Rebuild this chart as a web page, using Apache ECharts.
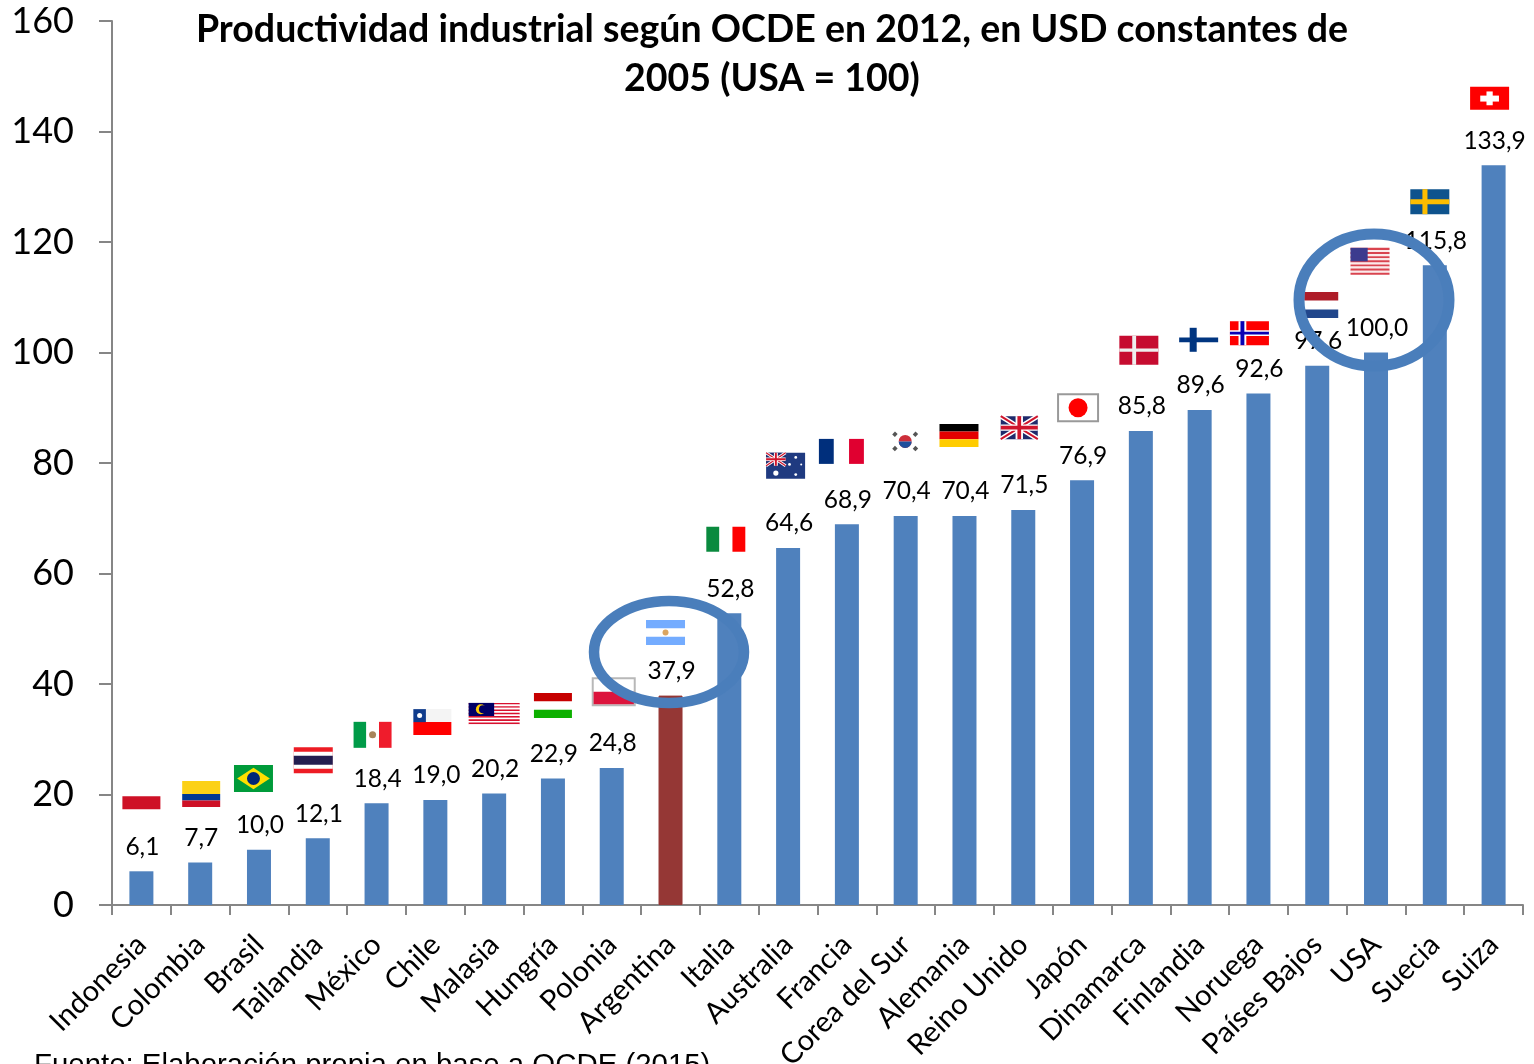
<!DOCTYPE html>
<html>
<head>
<meta charset="utf-8">
<title>Productividad industrial</title>
<script src="https://cdn.jsdelivr.net/npm/echarts@6/dist/echarts.min.js"></script>
<style>
  html, body { margin: 0; padding: 0; background: #fff; overflow: hidden; }
  #chart { width: 1534px; height: 1064px; }
</style>
</head>
<body>
<div id="chart"></div>
<script>
  const paises = ['Indonesia', 'Colombia', 'Brasil', 'Tailandia', 'México', 'Chile', 'Malasia', 'Hungría',
    'Polonia', 'Argentina', 'Italia', 'Australia', 'Francia', 'Corea del Sur', 'Alemania', 'Reino Unido',
    'Japón', 'Dinamarca', 'Finlandia', 'Noruega', 'Países Bajos', 'USA', 'Suecia', 'Suiza'];
  const productividad = [6.1, 7.7, 10.0, 12.1, 18.4, 19.0, 20.2, 22.9, 24.8, 37.9, 52.8, 64.6, 68.9, 70.4,
    70.4, 71.5, 76.9, 85.8, 89.6, 92.6, 97.6, 100.0, 115.8, 133.9];
  const nivelBandera = [19.7, 20.1, 22.9, 26.2, 30.8, 33.1, 34.5, 36.1, 38.6, 49.3, 66.2, 79.5, 82.1, 83.9,
    85.0, 86.4, 90.0, 100.4, 102.3, 103.5, 108.6, 116.5, 127.3, 146.0];

  const FONT = 'Lato, "Open Sans", sans-serif';

  // desplazamiento x (px) y tamano [ancho, alto] de las banderas, aparte de los datos
  const dxBandera = [0, 1, -5.5, -4.5, -4, -3, 0, 0, 2, -5, -3.5, -2.5, -5.5, -0.5, -5.5, -4, -4, -2, -1, -9, 4, -6, -5, -4];
  const tamBandera = [[38, 26], [38, 26], [39, 27], [39, 26], [38, 26], [38, 26], [51, 23], [38, 25], [42, 27],
    [39, 25], [39, 25], [39, 26], [45, 25], [27, 21], [39, 23], [37, 23], [40, 27], [39, 29], [39, 24], [39, 24],
    [34, 26], [39, 27], [39, 25], [39, 23]];

  // piezas: rect [x,y,w,h,color], disc [cx,cy,r,color] (r en px), line [x1,y1,x2,y2,grosor,color]
  const rect = (x, y, w, h, c) => ({ t: 'r', x, y, w, h, c });
  const disc = (x, y, r, c) => ({ t: 'c', x, y, r, c });
  const line = (x1, y1, x2, y2, lw, c) => ({ t: 'l', x1, y1, x2, y2, lw, c });

  function unionJack(x, y, w, h, k) {
    return [
      rect(x, y, w, h, '#1f2a6b'),
      line(x, y, x + w, y + h, 5 * k, '#fff'), line(x + w, y, x, y + h, 5 * k, '#fff'),
      line(x, y, x + w, y + h, 2 * k, '#cf142b'), line(x + w, y, x, y + h, 2 * k, '#cf142b'),
      rect(x + w * .4, y, w * .2, h, '#fff'), rect(x, y + h * .36, w, h * .28, '#fff'),
      rect(x + w * .45, y, w * .1, h, '#cf142b'), rect(x, y + h * .42, w, h * .16, '#cf142b')
    ];
  }
  function franjas(n, c1, c2) {
    const out = [];
    for (let i = 0; i < n; i++) out.push(rect(0, i / n, 1, 1 / n, i % 2 ? c2 : c1));
    return out;
  }
  function trigrama(x, y) {
    return [line(x - .05, y - .06, x + .05, y + .06, 4, '#555')];
  }

  const piezasBandera = [
    [rect(0, .5, 1, .5, '#ce1126')],
    [rect(0, 0, 1, .5, '#fcd116'), rect(0, .5, 1, .25, '#003893'), rect(0, .75, 1, .25, '#ce1126')],
    [rect(0, 0, 1, 1, '#009b3a'), { t: 'p', pts: [[.08, .5], [.5, .1], [.92, .5], [.5, .9]], c: '#fedf00' }, disc(.5, .5, 6.5, '#002776')],
    [rect(0, 0, 1, 1, '#ed1c24'), rect(0, .17, 1, .66, '#fff'), rect(0, .33, 1, .34, '#241d4f')],
    [rect(0, 0, .33, 1, '#009b48'), rect(.67, 0, .33, 1, '#ef1c2c'), disc(.5, .5, 3.5, '#a8845a')],
    [rect(0, .5, 1, .5, '#fe0000'), rect(0, 0, 1, .5, '#f4f4f4'), rect(0, 0, .33, .5, '#0f3c8c'), disc(.165, .25, 2.5, '#fff')],
    [...franjas(14, '#d8112f', '#fff'), rect(0, 0, .5, .57, '#010066'), disc(.24, .28, 5, '#fc0'), disc(.28, .28, 4, '#010066')],
    [rect(0, 0, 1, .33, '#c60000'), rect(0, .67, 1, .33, '#0db000')],
    [{ t: 'b', c: '#b8b8b8' }, rect(.02, .5, .96, .46, '#dc143c')],
    [rect(0, 0, 1, .33, '#74acff'), rect(0, .67, 1, .33, '#74acff'), disc(.5, .5, 3, '#dba662')],
    [rect(0, 0, .33, 1, '#0a8a3e'), rect(.67, 0, .33, 1, '#fe0000')],
    [rect(0, 0, 1, 1, '#1f3a80'), ...unionJack(0, 0, .5, .5, .6), disc(.25, .78, 2.6, '#fff'), disc(.76, .18, 1.4, '#fff'),
      disc(.6, .45, 1.4, '#fff'), disc(.9, .45, 1, '#fff'), disc(.76, .84, 1.4, '#fff')],
    [rect(0, 0, .33, 1, '#002f7c'), rect(.67, 0, .33, 1, '#e00030')],
    [disc(.5, .5, 6.5, '#cd2e3a'), rect(.22, .5, .56, .02, '#fff'), { t: 's', x: .5, y: .5, r: 6.5, c: '#1f4f9c' },
      ...trigrama(.12, .16), ...trigrama(.88, .84), ...trigrama(.88, .16), ...trigrama(.12, .84)],
    [rect(0, 0, 1, .33, '#000'), rect(0, .33, 1, .34, '#e40000'), rect(0, .67, 1, .33, '#ffcc00')],
    [...unionJack(0, 0, 1, 1, 1)],
    [{ t: 'b', c: '#999' }, disc(.5, .5, 9.5, '#fe0000')],
    [rect(0, 0, 1, 1, '#c60c30'), rect(.33, 0, .1, 1, '#eee'), rect(0, .44, 1, .11, '#eee')],
    [rect(.27, 0, .18, 1, '#003580'), rect(0, .4, 1, .2, '#003580')],
    [rect(0, 0, 1, 1, '#fe0000'), rect(.22, 0, .2, 1, '#fff'), rect(0, .38, 1, .24, '#fff'), rect(.27, 0, .1, 1, '#0a00b4'), rect(0, .44, 1, .12, '#0a00b4')],
    [rect(0, 0, 1, .33, '#ae1c28'), rect(0, .67, 1, .33, '#21468b')],
    [...franjas(13, '#d9444f', '#fbeaea'), rect(0, 0, .44, .5, '#3c3b8e')],
    [rect(0, 0, 1, 1, '#0e538d'), rect(.31, 0, .13, 1, '#fdbd00'), rect(0, .4, 1, .2, '#fdbd00')],
    [rect(0, 0, 1, 1, '#fe0000'), rect(.42, .2, .16, .6, '#fff'), rect(.26, .38, .48, .26, '#fff')]
  ];

  function dibujaBandera(params, api) {
    const i = api.value(0);
    const p = api.coord([i, api.value(1)]);
    const w = tamBandera[i][0], h = tamBandera[i][1];
    const x0 = p[0] + dxBandera[i] - w / 2, y0 = p[1] - h / 2;
    const X = v => x0 + v * w, Y = v => y0 + v * h;
    const children = piezasBandera[i].map(s => {
      if (s.t === 'r') return { type: 'rect', shape: { x: X(s.x), y: Y(s.y), width: s.w * w, height: s.h * h }, style: { fill: s.c } };
      if (s.t === 'c') return { type: 'circle', shape: { cx: X(s.x), cy: Y(s.y), r: s.r }, style: { fill: s.c } };
      if (s.t === 's') return { type: 'sector', shape: { cx: X(s.x), cy: Y(s.y), r: s.r, startAngle: 0, endAngle: Math.PI }, style: { fill: s.c } };
      if (s.t === 'l') return { type: 'line', shape: { x1: X(s.x1), y1: Y(s.y1), x2: X(s.x2), y2: Y(s.y2) }, style: { stroke: s.c, lineWidth: s.lw } };
      if (s.t === 'p') return { type: 'polygon', shape: { points: s.pts.map(q => [X(q[0]), Y(q[1])]) }, style: { fill: s.c } };
      return { type: 'rect', shape: { x: x0, y: y0, width: w, height: h }, style: { fill: '#fff', stroke: s.c, lineWidth: 2 } };
    });
    return { type: 'group', children };
  }

  const myChart = echarts.init(document.getElementById('chart'), null, { renderer: 'canvas' });

  const option = {
    animation: false,
    backgroundColor: '#fff',
    title: [{
      text: 'Productividad industrial según OCDE en 2012, en USD constantes de\n2005 (USA = 100)',
      left: 772,
      top: 5,
      padding: 0,
      textAlign: 'center',
      textStyle: { fontFamily: FONT, fontSize: 37.5, fontWeight: 'bold', color: '#000', lineHeight: 49 }
    }, {
      text: 'Fuente: Elaboración propia en base a OCDE (2015)',
      left: 34,
      top: 1051,
      padding: 0,
      textStyle: { fontFamily: '"Liberation Sans", Arial, sans-serif', fontSize: 29.4, fontWeight: 'normal', color: '#000' }
    }],
    // outerBoundsMode none: que las etiquetas largas no encojan el grid
    grid: { left: 112, right: 11, top: 21, bottom: 159, outerBoundsMode: 'none' },
    xAxis: {
      type: 'category',
      data: paises,
      axisLine: { lineStyle: { color: '#868686', width: 2 } },
      axisTick: { show: true, length: 10, lineStyle: { color: '#868686', width: 2 } },
      axisLabel: { rotate: 45, interval: 0, margin: 35, color: '#000', fontFamily: FONT, fontSize: 29 }
    },
    yAxis: {
      type: 'value',
      min: 0,
      max: 160,
      interval: 20,
      splitLine: { show: false },
      axisLine: { show: true, lineStyle: { color: '#868686', width: 2 } },
      axisTick: { show: true, length: 13, lineStyle: { color: '#868686', width: 2 } },
      axisLabel: { margin: 38, color: '#000', fontFamily: FONT, fontSize: 36 }
    },
    series: [{
      type: 'bar',
      barWidth: 24,
      data: productividad.map((v, i) => paises[i] === 'Argentina'
        ? { value: v, itemStyle: { color: '#953735', borderColor: '#953735', borderWidth: 1 } }
        : v),
      itemStyle: { color: '#4f81bd' },
      label: {
        show: true,
        position: 'top',
        distance: 12,
        offset: [1, 0],
        color: '#000',
        fontFamily: FONT,
        fontSize: 24.5,
        formatter: p => p.value.toFixed(1).replace('.', ',')
      }
    }, {
      type: 'custom',
      silent: true,
      z: 3,
      data: nivelBandera.map((v, i) => [i, v]),
      encode: { x: 0, y: 1 },
      renderItem: dibujaBandera
    }],
    graphic: [{
      type: 'ellipse',
      z: 100,
      shape: { cx: 669, cy: 652, rx: 75, ry: 51 },
      style: { fill: 'none', stroke: '#4a7ebb', lineWidth: 10.5 }
    }, {
      type: 'ellipse',
      z: 100,
      shape: { cx: 1374, cy: 300, rx: 75, ry: 66 },
      style: { fill: 'none', stroke: '#4a7ebb', lineWidth: 11 }
    }]
  };
  myChart.setOption(option);
</script>
</body>
</html>
